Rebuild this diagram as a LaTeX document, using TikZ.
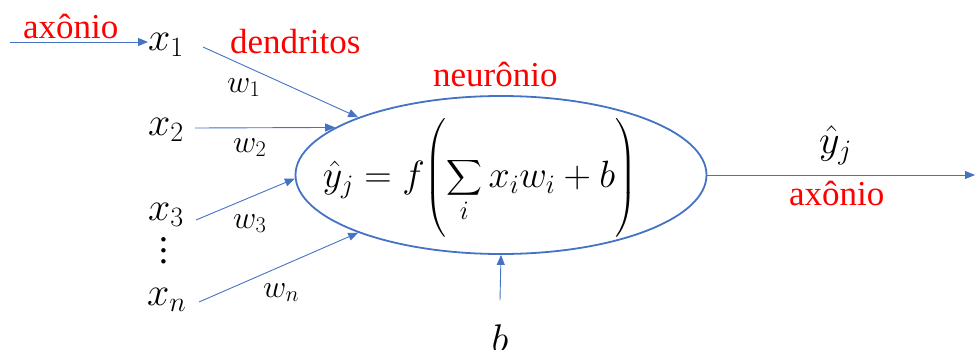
\RequirePackage{fix-cm}
\documentclass[tikz,border=0pt]{standalone}
\usepackage{amsmath}
\usepackage{fontspec}
\setmainfont{Liberation Serif}
\newfontfamily\dvs{DejaVu Serif}
\usetikzlibrary{shapes.geometric,arrows.meta}
\definecolor{ablue}{RGB}{68,114,196}
\definecolor{ared}{RGB}{255,0,0}
\tikzset{
  mathlbl/.style={inner sep=0, font=\fontsize{40}{46}\selectfont},
  wlbl/.style={inner sep=0, font=\fontsize{32}{38}\selectfont},
  link/.style={draw=ablue, line width=0.9pt, -{Triangle[length=10pt,width=8pt]}},
}
\newcommand{\myvdots}{\vbox{\baselineskip=11pt\lineskiplimit=0pt\hbox{.}\hbox{.}\hbox{.}}}
\begin{document}
\begin{tikzpicture}[x=1pt,y=-1pt]
\useasboundingbox (0,0) rectangle (975,349);
% neuron
\node[ellipse, draw=ablue, line width=1.8pt, minimum width=411pt, minimum height=158pt, inner sep=0] (neuron) at (501,175) {};
\node[inner sep=0, font=\fontsize{38}{44}\selectfont] (formula) at (480,178) {$\displaystyle \hat{y}_j = f\Biggl(\sum_i x_i w_i + b\Biggr)$};
% inputs
\node[mathlbl, anchor=base west] (x1) at (148,50) {$x_1$};
\node[mathlbl, anchor=base west] (x2) at (148,135) {$x_2$};
\node[mathlbl, anchor=base west] (x3) at (148,220) {$x_3$};
\node[inner sep=0, font=\fontsize{34}{34}\selectfont\dvs] (dots) at (164,251) {\myvdots};
\node[mathlbl, anchor=base west] (xn) at (147,305) {$x_n$};
% weights
\node[wlbl, anchor=base west] (w1) at (227,92) {$w_1$};
\node[wlbl, anchor=base west] (w2) at (233,152) {$w_2$};
\node[wlbl, anchor=base west] (w3) at (233,228) {$w_3$};
\node[wlbl, anchor=base west] (wn) at (263,297) {$w_n$};
% red labels
\node[font=\fontsize{35}{40}\selectfont, text=ared, inner sep=0, anchor=base west] (axin) at (23,38) {axônio};
\node[font=\fontsize{35}{40}\selectfont, text=ared, inner sep=0, anchor=base west] (dend) at (230,53) {dendritos};
\node[font=\fontsize{35}{40}\selectfont, text=ared, inner sep=0, anchor=base west] (neur) at (433,86) {neurônio};
\node[font=\fontsize{35}{40}\selectfont, text=ared, inner sep=0, anchor=base west] (axout) at (789,205) {axônio};
% output label and bias
\node[mathlbl, anchor=base west] (yhat) at (819,153) {$\hat{y}_j$};
\node[mathlbl, anchor=base] (b) at (500,352) {$b$};
% coordinates
\coordinate (ain) at (10,42);
\coordinate (c1) at (203,47);
\coordinate (c2) at (195,128);
\coordinate (c3) at (196,220);
\coordinate (cn) at (199,302);
\coordinate (cb) at (500,300);
\coordinate (cout) at (975,175);
% connectors
\draw[link] (ain) -- (x1.west |- ain);
\draw[link] (c1) -- (neuron.158.7);
\draw[link] (c2) -- (neuron.164.8);
\draw[link] (c3) -- (neuron.181);
\draw[link] (cn) -- (neuron.202.3);
\draw[link] (cb) -- (neuron.south);
\draw[link] (neuron.east) -- (cout);
\end{tikzpicture}
\end{document}
